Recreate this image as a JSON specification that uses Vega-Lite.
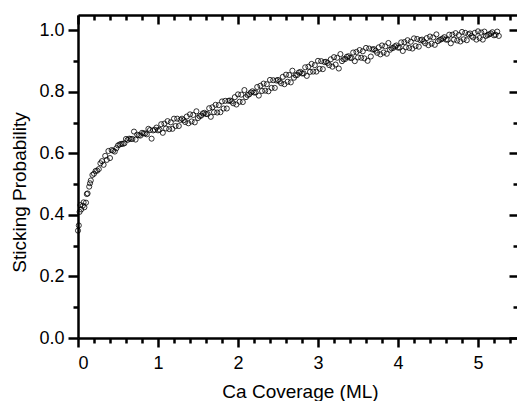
{
  "$schema": "https://vega.github.io/schema/vega-lite/v6.json",
  "width": 440,
  "height": 323,
  "autosize": {"type": "none"},
  "padding": {"left": 78, "top": 15, "right": 0, "bottom": 63},
  "background": "white",
  "config": {
    "view": {"stroke": null},
    "font": "Liberation Sans",
    "axis": {"grid": false, "domainColor": "black", "tickColor": "black", "labelColor": "black", "titleColor": "black", "labelFont": "Liberation Sans", "titleFont": "Liberation Sans", "titleFontWeight": "normal", "domainWidth": 2.5, "tickWidth": 2.5, "labelFontSize": 18, "titleFontSize": 19}
  },
  "data": {"values": [
    {"x":0.00,"y":0.349},{"x":0.01,"y":0.366},{"x":0.02,"y":0.410},{"x":0.03,"y":0.432},{"x":0.04,"y":0.418},{"x":0.06,"y":0.430},{"x":0.07,"y":0.441},{"x":0.08,"y":0.425},{"x":0.10,"y":0.440},{"x":0.11,"y":0.468},
    {"x":0.12,"y":0.470},{"x":0.14,"y":0.492},{"x":0.15,"y":0.503},{"x":0.16,"y":0.512},{"x":0.18,"y":0.530},{"x":0.20,"y":0.534},{"x":0.22,"y":0.543},{"x":0.24,"y":0.544},{"x":0.26,"y":0.549},{"x":0.28,"y":0.568},
    {"x":0.30,"y":0.575},{"x":0.32,"y":0.563},{"x":0.34,"y":0.592},{"x":0.36,"y":0.579},{"x":0.38,"y":0.608},{"x":0.40,"y":0.585},{"x":0.42,"y":0.611},{"x":0.44,"y":0.609},{"x":0.46,"y":0.606},{"x":0.48,"y":0.617},
    {"x":0.50,"y":0.626},{"x":0.52,"y":0.629},{"x":0.54,"y":0.631},{"x":0.56,"y":0.631},{"x":0.58,"y":0.633},{"x":0.60,"y":0.647},{"x":0.62,"y":0.644},{"x":0.64,"y":0.648},{"x":0.66,"y":0.647},{"x":0.68,"y":0.647},
    {"x":0.70,"y":0.671},{"x":0.72,"y":0.645},{"x":0.74,"y":0.661},{"x":0.76,"y":0.659},{"x":0.78,"y":0.658},{"x":0.80,"y":0.667},{"x":0.82,"y":0.665},{"x":0.84,"y":0.665},{"x":0.86,"y":0.662},{"x":0.88,"y":0.680},
    {"x":0.90,"y":0.676},{"x":0.92,"y":0.648},{"x":0.94,"y":0.675},{"x":0.96,"y":0.677},{"x":0.98,"y":0.684},{"x":1.00,"y":0.675},{"x":1.02,"y":0.677},{"x":1.04,"y":0.695},{"x":1.06,"y":0.667},{"x":1.08,"y":0.697},
    {"x":1.10,"y":0.681},{"x":1.12,"y":0.705},{"x":1.14,"y":0.679},{"x":1.16,"y":0.701},{"x":1.18,"y":0.680},{"x":1.20,"y":0.713},{"x":1.22,"y":0.689},{"x":1.24,"y":0.713},{"x":1.26,"y":0.689},{"x":1.28,"y":0.709},
    {"x":1.30,"y":0.713},{"x":1.32,"y":0.708},{"x":1.34,"y":0.702},{"x":1.36,"y":0.720},{"x":1.38,"y":0.698},{"x":1.40,"y":0.727},{"x":1.42,"y":0.704},{"x":1.44,"y":0.725},{"x":1.46,"y":0.701},{"x":1.48,"y":0.737},
    {"x":1.50,"y":0.715},{"x":1.52,"y":0.721},{"x":1.54,"y":0.723},{"x":1.56,"y":0.730},{"x":1.58,"y":0.732},{"x":1.60,"y":0.728},{"x":1.62,"y":0.728},{"x":1.64,"y":0.747},{"x":1.66,"y":0.719},{"x":1.68,"y":0.750},
    {"x":1.70,"y":0.734},{"x":1.72,"y":0.758},{"x":1.74,"y":0.733},{"x":1.76,"y":0.757},{"x":1.78,"y":0.734},{"x":1.80,"y":0.769},{"x":1.82,"y":0.746},{"x":1.84,"y":0.771},{"x":1.86,"y":0.746},{"x":1.88,"y":0.771},
    {"x":1.90,"y":0.772},{"x":1.92,"y":0.769},{"x":1.94,"y":0.763},{"x":1.96,"y":0.783},{"x":1.98,"y":0.759},{"x":2.00,"y":0.792},{"x":2.02,"y":0.768},{"x":2.04,"y":0.791},{"x":2.06,"y":0.767},{"x":2.08,"y":0.806},
    {"x":2.10,"y":0.783},{"x":2.12,"y":0.790},{"x":2.14,"y":0.792},{"x":2.16,"y":0.798},{"x":2.18,"y":0.802},{"x":2.20,"y":0.798},{"x":2.22,"y":0.798},{"x":2.24,"y":0.816},{"x":2.26,"y":0.788},{"x":2.28,"y":0.820},
    {"x":2.30,"y":0.803},{"x":2.32,"y":0.827},{"x":2.34,"y":0.804},{"x":2.36,"y":0.825},{"x":2.38,"y":0.802},{"x":2.40,"y":0.839},{"x":2.42,"y":0.813},{"x":2.44,"y":0.838},{"x":2.46,"y":0.813},{"x":2.48,"y":0.837},
    {"x":2.50,"y":0.839},{"x":2.52,"y":0.834},{"x":2.54,"y":0.828},{"x":2.56,"y":0.849},{"x":2.58,"y":0.825},{"x":2.60,"y":0.856},{"x":2.62,"y":0.833},{"x":2.64,"y":0.855},{"x":2.66,"y":0.831},{"x":2.68,"y":0.869},
    {"x":2.70,"y":0.846},{"x":2.72,"y":0.854},{"x":2.74,"y":0.855},{"x":2.76,"y":0.863},{"x":2.78,"y":0.865},{"x":2.80,"y":0.860},{"x":2.82,"y":0.860},{"x":2.84,"y":0.880},{"x":2.86,"y":0.852},{"x":2.88,"y":0.882},
    {"x":2.90,"y":0.865},{"x":2.92,"y":0.891},{"x":2.94,"y":0.866},{"x":2.96,"y":0.887},{"x":2.98,"y":0.866},{"x":3.00,"y":0.901},{"x":3.02,"y":0.875},{"x":3.04,"y":0.900},{"x":3.06,"y":0.874},{"x":3.08,"y":0.897},
    {"x":3.10,"y":0.898},{"x":3.12,"y":0.894},{"x":3.14,"y":0.887},{"x":3.16,"y":0.906},{"x":3.18,"y":0.882},{"x":3.20,"y":0.913},{"x":3.22,"y":0.889},{"x":3.24,"y":0.911},{"x":3.26,"y":0.876},{"x":3.28,"y":0.923},
    {"x":3.30,"y":0.900},{"x":3.32,"y":0.906},{"x":3.34,"y":0.907},{"x":3.36,"y":0.914},{"x":3.38,"y":0.916},{"x":3.40,"y":0.911},{"x":3.42,"y":0.910},{"x":3.44,"y":0.928},{"x":3.46,"y":0.900},{"x":3.48,"y":0.930},
    {"x":3.50,"y":0.912},{"x":3.52,"y":0.936},{"x":3.54,"y":0.911},{"x":3.56,"y":0.932},{"x":3.58,"y":0.909},{"x":3.60,"y":0.943},{"x":3.62,"y":0.901},{"x":3.64,"y":0.941},{"x":3.66,"y":0.915},{"x":3.68,"y":0.938},
    {"x":3.70,"y":0.939},{"x":3.72,"y":0.934},{"x":3.74,"y":0.927},{"x":3.76,"y":0.945},{"x":3.78,"y":0.922},{"x":3.80,"y":0.951},{"x":3.82,"y":0.928},{"x":3.84,"y":0.948},{"x":3.86,"y":0.924},{"x":3.88,"y":0.959},
    {"x":3.90,"y":0.937},{"x":3.92,"y":0.942},{"x":3.94,"y":0.943},{"x":3.96,"y":0.948},{"x":3.98,"y":0.951},{"x":4.00,"y":0.944},{"x":4.02,"y":0.944},{"x":4.04,"y":0.961},{"x":4.06,"y":0.933},{"x":4.08,"y":0.962},
    {"x":4.10,"y":0.945},{"x":4.12,"y":0.968},{"x":4.14,"y":0.943},{"x":4.16,"y":0.963},{"x":4.18,"y":0.941},{"x":4.20,"y":0.974},{"x":4.22,"y":0.949},{"x":4.24,"y":0.972},{"x":4.26,"y":0.947},{"x":4.28,"y":0.968},
    {"x":4.30,"y":0.970},{"x":4.32,"y":0.964},{"x":4.34,"y":0.958},{"x":4.36,"y":0.975},{"x":4.38,"y":0.952},{"x":4.40,"y":0.980},{"x":4.42,"y":0.957},{"x":4.44,"y":0.977},{"x":4.46,"y":0.953},{"x":4.48,"y":0.987},
    {"x":4.50,"y":0.965},{"x":4.52,"y":0.969},{"x":4.54,"y":0.971},{"x":4.56,"y":0.974},{"x":4.58,"y":0.978},{"x":4.60,"y":0.970},{"x":4.62,"y":0.970},{"x":4.64,"y":0.986},{"x":4.66,"y":0.958},{"x":4.68,"y":0.986},
    {"x":4.70,"y":0.970},{"x":4.72,"y":0.991},{"x":4.74,"y":0.967},{"x":4.76,"y":0.985},{"x":4.78,"y":0.964},{"x":4.80,"y":0.995},{"x":4.82,"y":0.971},{"x":4.84,"y":0.992},{"x":4.86,"y":0.968},{"x":4.88,"y":0.987},
    {"x":4.90,"y":0.990},{"x":4.92,"y":0.982},{"x":4.94,"y":0.977},{"x":4.96,"y":0.992},{"x":4.98,"y":0.970},{"x":5.00,"y":0.997},{"x":5.02,"y":0.975},{"x":5.04,"y":0.993},{"x":5.06,"y":0.970},{"x":5.08,"y":0.996},
    {"x":5.10,"y":0.982},{"x":5.12,"y":0.985},{"x":5.14,"y":0.987},{"x":5.16,"y":0.990},{"x":5.18,"y":0.994},{"x":5.20,"y":0.984},{"x":5.22,"y":0.986},{"x":5.24,"y":0.996},{"x":5.26,"y":0.982}
  ]},
  "resolve": {"axis": {"x": "independent", "y": "independent"}},
  "layer": [
    {
      "mark": {"type": "point", "filled": false, "shape": "circle", "size": 26, "stroke": "black", "strokeWidth": 0.8, "opacity": 1},
      "encoding": {
        "x": {"field": "x", "type": "quantitative", "scale": {"domain": [0, 5.5], "nice": false, "zero": false},
          "axis": {"orient": "bottom", "values": [0, 1, 2, 3, 4, 5], "tickSize": 9, "labelPadding": 7, "title": "Ca Coverage (ML)", "titleBaseline": "alphabetic", "titleY": 59, "titleX": 222}},
        "y": {"field": "y", "type": "quantitative", "scale": {"domain": [0, 1.05], "nice": false, "zero": false},
          "axis": {"orient": "left", "values": [0, 0.2, 0.4, 0.6, 0.8, 1.0], "format": ".1f", "tickSize": 10, "labelPadding": 4, "title": "Sticking Probability", "titleBaseline": "alphabetic", "titleAngle": -90, "titleX": -53, "titleY": 177}}
      }
    },
    {
      "mark": {"type": "point", "opacity": 0},
      "encoding": {
        "x": {"field": "x", "type": "quantitative", "scale": {"domain": [0, 5.5], "nice": false, "zero": false},
          "axis": {"orient": "bottom", "values": [0.2, 0.4, 0.6, 0.8, 1.2, 1.4, 1.6, 1.8, 2.2, 2.4, 2.6, 2.8, 3.2, 3.4, 3.6, 3.8, 4.2, 4.4, 4.6, 4.8, 5.2, 5.4], "tickSize": 5, "labels": false, "domain": false, "title": null}},
        "y": {"field": "y", "type": "quantitative", "scale": {"domain": [0, 1.05], "nice": false, "zero": false},
          "axis": {"orient": "left", "values": [0.1, 0.3, 0.5, 0.7, 0.9], "tickSize": 5, "labels": false, "domain": false, "title": null}}
      }
    },
    {
      "mark": {"type": "point", "opacity": 0},
      "encoding": {
        "x": {"field": "x", "type": "quantitative", "scale": {"domain": [0, 5.5], "nice": false, "zero": false},
          "axis": {"orient": "bottom", "offset": -323, "values": [0, 1, 2, 3, 4, 5], "tickSize": 9, "labels": false, "title": null}},
        "y": {"field": "y", "type": "quantitative", "scale": {"domain": [0, 1.05], "nice": false, "zero": false},
          "axis": {"orient": "left", "offset": -440, "values": [0, 0.2, 0.4, 0.6, 0.8, 1.0], "tickSize": 9, "labels": false, "title": null}}
      }
    },
    {
      "mark": {"type": "point", "opacity": 0},
      "encoding": {
        "x": {"field": "x", "type": "quantitative", "scale": {"domain": [0, 5.5], "nice": false, "zero": false},
          "axis": {"orient": "bottom", "offset": -323, "values": [0.2, 0.4, 0.6, 0.8, 1.2, 1.4, 1.6, 1.8, 2.2, 2.4, 2.6, 2.8, 3.2, 3.4, 3.6, 3.8, 4.2, 4.4, 4.6, 4.8, 5.2, 5.4], "tickSize": 5, "labels": false, "domain": false, "title": null}},
        "y": {"field": "y", "type": "quantitative", "scale": {"domain": [0, 1.05], "nice": false, "zero": false},
          "axis": {"orient": "left", "offset": -440, "values": [0.1, 0.3, 0.5, 0.7, 0.9], "tickSize": 5, "labels": false, "domain": false, "title": null}}
      }
    }
  ]
}
